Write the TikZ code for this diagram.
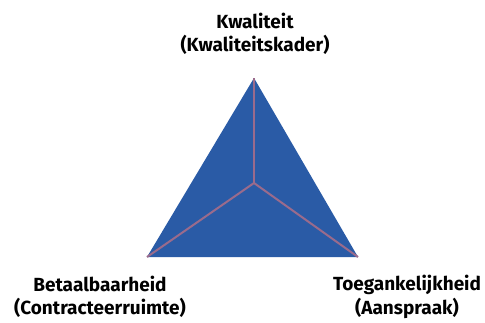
\documentclass[tikz,border=0pt]{standalone}
\usepackage{fontspec}
\setmainfont{Fira Sans}
\usepackage{tikz}
\usetikzlibrary{arrows,shapes,calc}
\definecolor{vlakblauw}{HTML}{2A5BA6}
\definecolor{lijnpaars}{HTML}{9A6B8C}
\tikzstyle{hoek}=[inner sep=0pt,minimum size=0pt]
\tikzstyle{label}=[align=center,font=\fontsize{19}{23.5}\selectfont\bfseries,text=black]
\tikzstyle{edge} = [draw,line width=2pt,lijnpaars]

\begin{document}
\begin{tikzpicture}[x=1pt,y=-1pt]
                    \useasboundingbox (0,0) rectangle (485,322);

                    \coordinate (k) at (254,78);
                    \coordinate (b) at (147,257);
                    \coordinate (t) at (358,257);
                    \coordinate (m) at (254,183);

                    \fill[vlakblauw] (k) -- (b) -- (t) -- cycle;

                    \path[edge] (m) -- (k);
                    \path[edge] (m) -- (b);
                    \path[edge] (m) -- (t);

                    \node[label] (kw) at (255,34) {Kwaliteit\\(Kwaliteitskader)};
                    \node[label] (be) at (100,297) {Betaalbaarheid\\(Contracteerruimte)};
                    \node[label] (to) at (407,297) {Toegankelijkheid\\(Aanspraak)};
                \end{tikzpicture}
\end{document}
